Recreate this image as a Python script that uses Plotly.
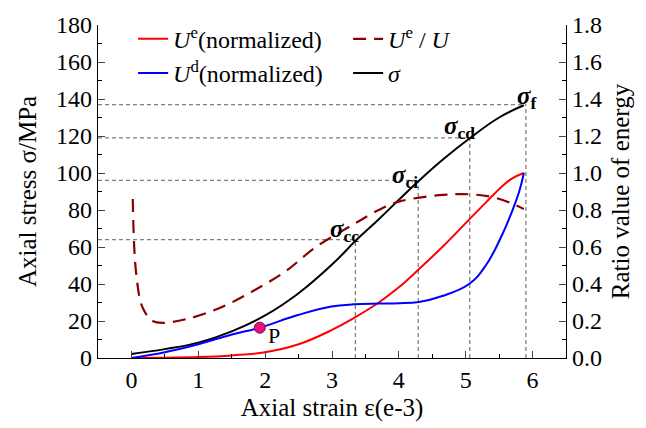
import plotly.graph_objects as go

# ---- data ----
strain_sigma = [0, 0.5, 1, 1.5, 2, 2.5, 3, 3.36, 3.7, 4.0, 4.3, 4.65, 5.05, 5.5, 5.87]
sigma = [2.2, 4.8, 8.3, 14.4, 23, 35, 50.5, 63.6, 75, 85.5, 95.8, 107, 118.5, 130, 136.6]

strain_ue = [0, 0.5, 1, 1.5, 2, 2.5, 3, 3.35, 3.7, 4.0, 4.3, 4.65, 5.05, 5.3, 5.55, 5.69, 5.87]
ue_norm = [0, 0.002, 0.005, 0.014, 0.031, 0.074, 0.152, 0.221, 0.30, 0.382, 0.48, 0.60, 0.748, 0.84, 0.93, 0.97, 1.0]

strain_ud = [0, 0.5, 1, 1.49, 1.92, 2.49, 2.99, 3.33, 3.7, 4.0, 4.3, 4.65, 5.05, 5.3, 5.55, 5.69, 5.8, 5.87]
ud_norm = [0, 0.031, 0.074, 0.126, 0.164, 0.232, 0.278, 0.29, 0.294, 0.296, 0.303, 0.335, 0.40, 0.50, 0.67, 0.79, 0.90, 1.0]

strain_ratio = [0.02, 0.07, 0.17, 0.32, 0.47, 0.82, 1.32, 1.81, 2.31, 2.76, 3.31, 3.7, 4.0, 4.6, 5.05, 5.4, 5.69, 5.87]
ue_ratio = [0.86, 0.46, 0.27, 0.20, 0.19, 0.21, 0.27, 0.36, 0.47, 0.60, 0.72, 0.80, 0.845, 0.88, 0.885, 0.87, 0.835, 0.805]

# characteristic points
char_strain = [3.35, 4.29, 5.06, 5.9]
char_stress = [64, 96, 119, 137]
char_labels = ["cc", "ci", "cd", "f"]

p_strain = [1.92]
p_ratio = [0.164]

FONT = "Liberation Serif"
X_MIN, X_MAX = -0.5, 6.5

fig = go.Figure()
fig.add_trace(go.Scatter(x=strain_ue, y=ue_norm, mode="lines", yaxis="y2",
                         line=dict(color="#ff0000", width=2, shape="spline", smoothing=1.2),
                         name="<i>U</i><sup>e</sup>(normalized)"))
fig.add_trace(go.Scatter(x=strain_ratio, y=ue_ratio, mode="lines", yaxis="y2",
                         line=dict(color="#8b0000", width=2.2, dash="13px,8px", shape="spline", smoothing=1.0),
                         name="<i>U</i><sup>e</sup> / <i>U</i>"))
fig.add_trace(go.Scatter(x=strain_ud, y=ud_norm, mode="lines", yaxis="y2",
                         line=dict(color="#0000ff", width=2, shape="spline", smoothing=1.2),
                         name="<i>U</i><sup>d</sup>(normalized)"))
fig.add_trace(go.Scatter(x=strain_sigma, y=sigma, mode="lines",
                         line=dict(color="#000000", width=2, shape="spline", smoothing=1.2),
                         name="<i>σ</i>"))
fig.add_trace(go.Scatter(x=p_strain, y=p_ratio, mode="markers", yaxis="y2", showlegend=False,
                         marker=dict(size=11, color="#e8127c", line=dict(color="#7a0a3a", width=1))))

shapes = []
for xs, ys in zip(char_strain, char_stress):
    shapes.append(dict(type="line", xref="paper", yref="y", x0=0, x1=(xs - X_MIN) / (X_MAX - X_MIN),
                       y0=ys, y1=ys, line=dict(color="#808080", width=1.3, dash="4px,3px"), layer="below"))
    shapes.append(dict(type="line", xref="x", yref="y", x0=xs, x1=xs, y0=0, y1=ys,
                       line=dict(color="#808080", width=1.3, dash="4px,3px"), layer="below"))

shifts = [(-11, 9), (-13, 4), (-10, 10), (1, 7)]
annotations = []
for xs, ys, lab, (dx, dy) in zip(char_strain, char_stress, char_labels, shifts):
    annotations.append(dict(x=xs, y=ys, xref="x", yref="y", showarrow=False,
                            text="<b><i>σ</i></b><sub><b>%s</b></sub>" % lab,
                            font=dict(family=FONT, size=25, color="#000"),
                            xshift=dx, yshift=dy, xanchor="center", yanchor="middle"))
annotations.append(dict(x=p_strain[0], y=p_ratio[0], xref="x", yref="y2", showarrow=False,
                        text="P", font=dict(family=FONT, size=22, color="#000"),
                        xshift=14, yshift=-8))

fig.update_layout(
    width=646, height=428,
    margin=dict(l=98, r=80, t=19, b=62),
    paper_bgcolor="white", plot_bgcolor="white",
    font=dict(family=FONT, size=24, color="#000"),
    shapes=shapes, annotations=annotations,
    showlegend=True,
    legend=dict(orientation="h", x=0.075, y=1.025, xanchor="left", yanchor="top",
                entrywidth=170, entrywidthmode="pixels",
                font=dict(family=FONT, size=24), bgcolor="rgba(0,0,0,0)",
                tracegroupgap=0),
    xaxis=dict(range=[X_MIN, X_MAX], dtick=1, tick0=0, ticks="inside", ticklen=7, tickwidth=1,
               showline=True, linecolor="#000", linewidth=1.2, showgrid=False, zeroline=False,
               minor=dict(dtick=0.5, ticks="inside", ticklen=4, tickcolor="#000"),
               title=dict(text="Axial strain ε(e-3)", font=dict(size=25), standoff=6),
               tickfont=dict(size=24)),
    yaxis=dict(range=[0, 180], dtick=20, ticks="inside", ticklen=7, tickwidth=1,
               showline=True, linecolor="#000", linewidth=1.2, showgrid=False, zeroline=False,
               minor=dict(dtick=10, ticks="inside", ticklen=4, tickcolor="#000"),
               title=dict(text="Axial stress σ/MPa", font=dict(size=25), standoff=12),
               tickfont=dict(size=24)),
    yaxis2=dict(range=[0, 1.8], dtick=0.2, tickformat=".1f", overlaying="y", side="right",
                ticks="inside", ticklen=7, tickwidth=1,
                showline=True, linecolor="#000", linewidth=1.2, showgrid=False, zeroline=False,
                minor=dict(dtick=0.1, ticks="inside", ticklen=4, tickcolor="#000"),
                title=dict(text="Ratio value of energy", font=dict(size=25), standoff=10),
                tickfont=dict(size=24)),
)

fig.write_html("out.html")
